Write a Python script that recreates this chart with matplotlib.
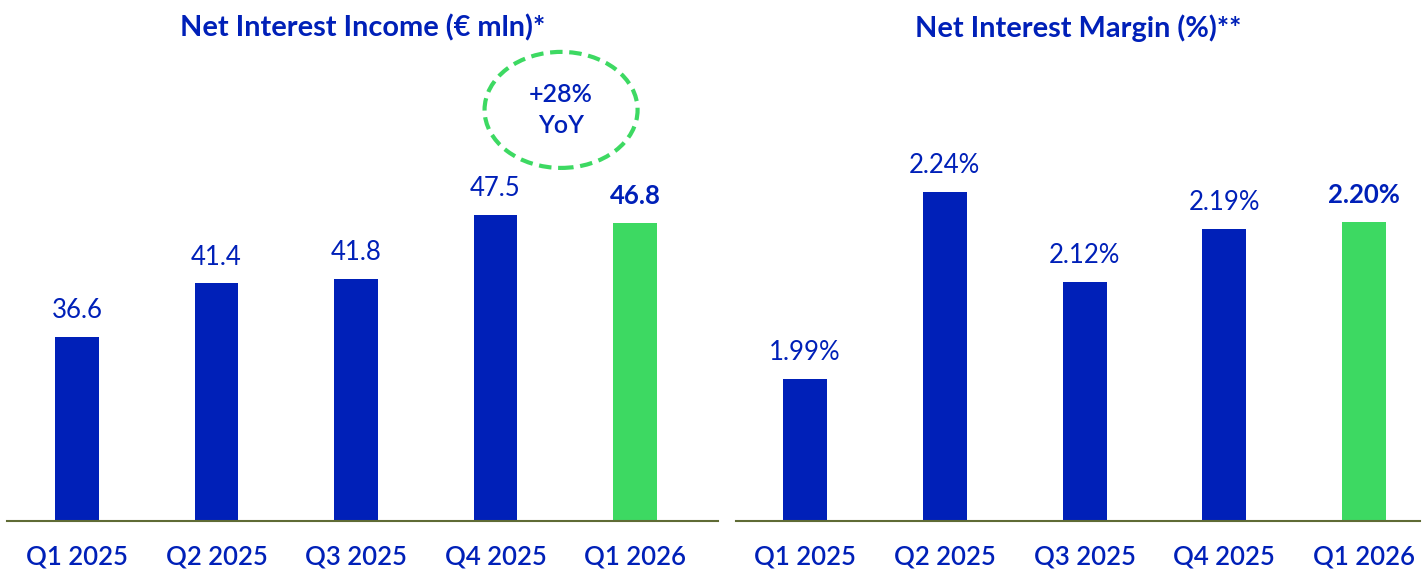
import matplotlib.pyplot as plt
from matplotlib.patches import Ellipse

BLUE = '#0020B8'
GREEN = '#3DD962'
AXIS = '#5F6B35'

plt.rcParams['font.family'] = ['Lato', 'DejaVu Sans']

quarters = ['Q1 2025', 'Q2 2025', 'Q3 2025', 'Q4 2025', 'Q1 2026']
nii = [36.6, 41.4, 41.8, 47.5, 46.8]
nim = [1.99, 2.24, 2.12, 2.19, 2.20]
nii_labels = ['36.6', '41.4', '41.8', '47.5', '46.8']
nim_labels = ['1.99%', '2.24%', '2.12%', '2.19%', '2.20%']
yoy_label = '+28%\nYoY'


def draw_panel(ax, values, labels, title, ylim, xlim):
    colors = [BLUE] * (len(values) - 1) + [GREEN]
    x = list(range(len(values)))
    ax.bar(x, [v - ylim[0] for v in values], bottom=ylim[0], width=0.315, color=colors)
    ax.set_ylim(*ylim)
    ax.set_xlim(*xlim)
    for i, (v, lab) in enumerate(zip(values, labels)):
        last = i == len(values) - 1
        ax.annotate(lab, (i, v), xytext=(0, 13.5), textcoords='offset points',
                    ha='center', va='baseline', fontsize=18.5, color=BLUE,
                    fontweight='bold' if last else 'normal')
    ax.set_xticks(x)
    ax.set_xticklabels(quarters, fontsize=18.5, color=BLUE, fontweight='semibold')
    ax.tick_params(axis='x', length=0, pad=17)
    ax.set_yticks([])
    for s in ['top', 'right', 'left']:
        ax.spines[s].set_visible(False)
    ax.spines['bottom'].set_color(AXIS)
    ax.spines['bottom'].set_linewidth(1.5)
    ax.set_title(title, fontsize=20.8, fontweight='bold', color=BLUE, pad=0, y=1.05)


fig = plt.figure(figsize=(14.22, 5.71), dpi=100)
W, H = 1422, 571
ax1 = fig.add_axes([7 / W, 50 / H, 711 / W, 461 / H])
ax2 = fig.add_axes([736 / W, 50 / H, 684 / W, 461 / H])

draw_panel(ax1, nii, nii_labels, 'Net Interest Income (€ mln)*', (20.16, 61.36), (-0.502, 4.595))
draw_panel(ax2, nim, nim_labels, 'Net Interest Margin (%)**', (1.80, 2.416), (-0.494, 4.40))

# YoY callout
ell = Ellipse((3.47, 56.9), 1.097, 10.37, fill=False, edgecolor=GREEN,
              linewidth=3, linestyle=(0, (3, 1.6)), clip_on=False)
ax1.add_patch(ell)
ax1.text(3.47, 56.9, yoy_label, ha='center', va='center', fontsize=18,
         color=BLUE, fontweight='semibold', linespacing=1.45)

fig.savefig('out.png', dpi=100)
